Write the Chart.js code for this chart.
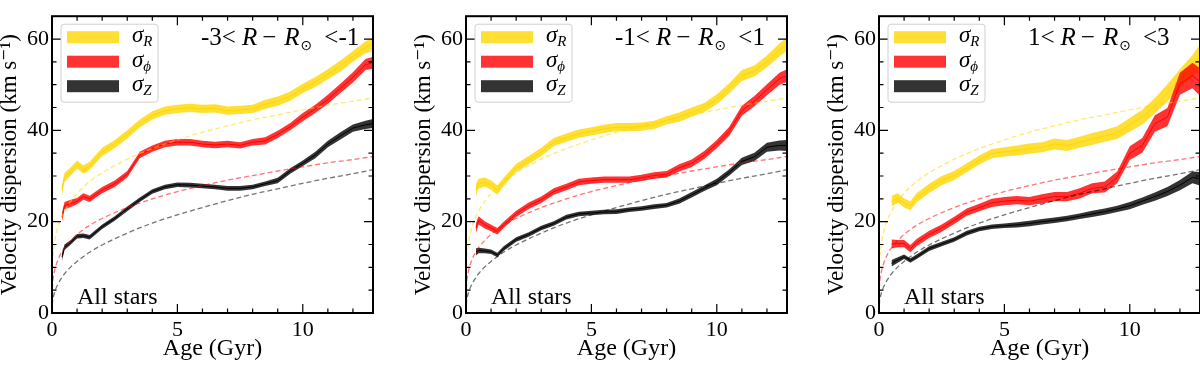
<!DOCTYPE html>
<html>
<head>
<meta charset="utf-8">
<script src="https://cdn.jsdelivr.net/npm/chart.js@4.4.1/dist/chart.umd.min.js"></script>
<style>
  html, body { margin: 0; padding: 0; background: #fff; overflow: hidden; }
  #wrap { position: relative; width: 1200px; height: 365px; overflow: hidden; }
  .panel { position: absolute; top: 0; width: 380px; height: 365px; }
</style>
</head>
<body>
<div id="wrap">
  <div class="panel" style="left:0px"><canvas id="c1" width="380" height="365"></canvas></div>
  <div class="panel" style="left:414px"><canvas id="c2" width="380" height="365"></canvas></div>
  <div class="panel" style="left:827px"><canvas id="c3" width="380" height="365"></canvas></div>
</div>
<script>
// ---- data ----
// ages (Gyr) for the inner and solar-radius panels
const ageA = [0.4, 0.5, 0.75, 1, 1.25, 1.5, 2, 2.5, 3, 3.5, 4, 4.5, 5, 5.5, 6, 6.5, 7, 7.5, 8, 8.5, 9, 9.5, 10, 10.5, 11, 11.5, 12, 12.5, 12.8];
// ages for the outer panel
const ageC = [0.5, 0.75, 1, 1.25, 1.5, 2, 2.5, 3, 3.5, 4, 4.5, 5, 5.5, 6, 6.5, 7, 7.5, 8, 8.5, 9, 9.5, 10, 10.5, 11, 11.5, 12, 12.5, 12.8];

// -3 < R - Rsun < -1
const sigR1 = [27.0, 29.7, 31.0, 32.5, 31.4, 32.2, 35.3, 37.0, 39.1, 41.5, 43.3, 44.3, 44.7, 44.9, 44.7, 44.8, 44.3, 44.5, 44.7, 45.7, 46.4, 47.5, 49.2, 50.6, 52.3, 54.1, 56.2, 58.2, 58.9];
const sigP1 = [21.0, 23.5, 24.0, 24.5, 25.5, 25.0, 26.9, 28.3, 30.4, 34.6, 36.0, 37.0, 37.4, 37.4, 37.0, 36.8, 37.0, 36.7, 37.4, 37.7, 39.1, 40.8, 42.9, 44.7, 46.8, 49.2, 51.6, 54.4, 54.8];
const sigZ1 = [12.3, 14.4, 15.5, 16.8, 16.9, 16.6, 18.9, 20.7, 22.8, 24.8, 26.6, 27.6, 28.1, 28.0, 27.8, 27.6, 27.3, 27.3, 27.6, 28.3, 29.0, 31.1, 32.8, 34.6, 37.0, 38.8, 40.5, 41.2, 41.5];
const errR1 = [1.2, 1.0, 0.9, 0.9, 0.9, 0.9, 0.9, 0.9, 0.9, 0.9, 0.9, 0.9, 0.9, 0.9, 0.9, 0.9, 0.9, 0.9, 0.9, 1.0, 1.0, 1.0, 1.0, 1.1, 1.1, 1.2, 1.2, 1.3, 1.4];
const errP1 = [1.0, 0.8, 0.8, 0.7, 0.7, 0.7, 0.7, 0.7, 0.7, 0.7, 0.7, 0.7, 0.7, 0.7, 0.7, 0.7, 0.7, 0.7, 0.7, 0.8, 0.8, 0.8, 0.9, 0.9, 1.0, 1.0, 1.1, 1.2, 1.3];
const errZ1 = [0.8, 0.6, 0.5, 0.5, 0.5, 0.5, 0.5, 0.5, 0.5, 0.5, 0.5, 0.5, 0.5, 0.5, 0.5, 0.5, 0.5, 0.5, 0.5, 0.5, 0.6, 0.6, 0.6, 0.7, 0.7, 0.8, 0.8, 0.9, 1.0];

// -1 < R - Rsun < 1
const sigR2 = [27.0, 28.3, 28.7, 28.0, 26.9, 28.7, 31.8, 33.5, 35.3, 37.4, 38.4, 39.3, 39.8, 40.3, 40.7, 40.7, 40.8, 41.2, 42.2, 42.9, 44.0, 45.0, 46.8, 49.2, 52.0, 53.0, 55.1, 57.6, 58.9];
const sigP2 = [18.6, 20.3, 19.3, 18.6, 17.9, 19.3, 21.7, 23.5, 24.8, 26.6, 27.6, 28.7, 29.0, 29.2, 29.2, 29.2, 29.6, 30.1, 30.4, 31.8, 32.8, 34.6, 37.0, 39.8, 44.3, 46.4, 48.9, 51.3, 52.0];
const sigZ2 = [13.4, 13.7, 13.6, 13.4, 12.7, 14.1, 16.1, 17.2, 18.6, 19.6, 21.0, 21.7, 21.9, 22.1, 22.2, 22.6, 22.9, 23.3, 23.6, 24.5, 25.9, 27.3, 28.7, 30.8, 33.2, 34.2, 36.3, 36.7, 36.7];
const errR2 = [1.3, 1.1, 1.0, 1.0, 1.0, 0.9, 0.9, 0.9, 0.9, 0.9, 0.9, 0.9, 0.9, 0.9, 0.9, 0.9, 0.9, 0.9, 0.9, 1.0, 1.0, 1.0, 1.1, 1.1, 1.2, 1.2, 1.3, 1.4, 1.5];
const errP2 = [1.1, 0.9, 0.8, 0.7, 0.7, 0.7, 0.7, 0.7, 0.7, 0.7, 0.7, 0.7, 0.7, 0.7, 0.7, 0.7, 0.7, 0.7, 0.7, 0.8, 0.8, 0.9, 0.9, 1.0, 1.1, 1.1, 1.2, 1.3, 1.4];
const errZ2 = [0.8, 0.6, 0.5, 0.5, 0.5, 0.5, 0.5, 0.5, 0.5, 0.5, 0.5, 0.5, 0.5, 0.5, 0.5, 0.5, 0.5, 0.5, 0.5, 0.6, 0.6, 0.6, 0.7, 0.7, 0.8, 0.9, 1.0, 1.1, 1.2];

// 1 < R - Rsun < 3
const sigR3 = [24.5, 25.2, 24.1, 23.5, 25.2, 27.3, 29.0, 30.1, 31.8, 33.5, 34.9, 35.3, 35.6, 36.0, 36.3, 37.0, 36.7, 37.4, 38.1, 38.8, 39.5, 41.2, 42.9, 45.4, 48.2, 51.3, 54.1, 56.2];
const sigP3 = [15.1, 15.2, 15.2, 14.1, 15.4, 17.2, 18.6, 20.3, 22.1, 23.1, 24.1, 24.5, 24.7, 24.5, 25.0, 25.5, 25.5, 26.2, 27.3, 27.6, 29.7, 35.0, 36.7, 41.5, 42.9, 50.2, 52.0, 50.6];
const sigZ3 = [10.9, 11.6, 12.3, 11.5, 12.3, 14.1, 15.1, 16.1, 17.5, 18.4, 18.9, 19.1, 19.3, 19.6, 20.0, 20.3, 20.7, 21.2, 21.7, 22.2, 22.8, 23.5, 24.5, 25.5, 26.6, 28.0, 29.7, 29.4];
const errR3 = [1.2, 1.0, 1.0, 1.0, 1.0, 1.0, 1.0, 1.0, 1.0, 1.0, 1.0, 1.0, 1.1, 1.1, 1.1, 1.2, 1.2, 1.2, 1.3, 1.3, 1.4, 1.5, 1.6, 1.7, 1.9, 2.1, 2.4, 2.6];
const errP3 = [1.0, 0.8, 0.8, 0.8, 0.8, 0.8, 0.8, 0.8, 0.8, 0.8, 0.9, 0.9, 0.9, 0.9, 1.0, 1.0, 1.0, 1.1, 1.1, 1.2, 1.3, 1.5, 1.6, 1.8, 2.0, 2.4, 2.8, 3.0];
const errZ3 = [0.7, 0.6, 0.5, 0.5, 0.5, 0.5, 0.5, 0.5, 0.5, 0.5, 0.5, 0.5, 0.6, 0.6, 0.6, 0.6, 0.6, 0.6, 0.7, 0.7, 0.7, 0.8, 0.8, 0.9, 1.0, 1.1, 1.3, 1.5];

// dashed "all stars" reference curves (same in every panel)
const fitAge = [0, 0.02, 0.05, 0.1, 0.2, 0.35, 0.5, 0.75, 1, 1.5, 2, 3, 4, 5, 6, 7, 8, 9, 10, 11, 12, 12.8];
const fitR   = [0, 10.7, 13.2, 15.4, 18.1, 20.6, 22.3, 24.5, 26.2, 28.8, 30.7, 33.7, 36.0, 37.9, 39.6, 41.0, 42.3, 43.4, 44.5, 45.5, 46.4, 47.1];
const fitP   = [0, 6.0, 7.7, 9.2, 11.1, 13.0, 14.3, 15.9, 17.2, 19.2, 20.7, 23.1, 25.0, 26.6, 27.9, 29.1, 30.1, 31.1, 32.0, 32.9, 33.6, 34.3];
const fitZ   = [0, 2.4, 3.4, 4.5, 5.9, 7.4, 8.6, 10.1, 11.3, 13.3, 14.9, 17.5, 19.7, 21.5, 23.1, 24.6, 26.0, 27.2, 28.4, 29.5, 30.5, 31.4];

const xTicks = [0, 5, 10];
const yTicks = [0, 20, 40, 60];
const panelLabels = [['-3<', '<-1'], ['-1<', '<1'], ['1<', '<3']];

const FONT = "'Liberation Serif', 'DejaVu Serif', serif";
const GOLD = [255, 215, 0], RED = [255, 0, 0], BLACK = [0, 0, 0];
const rgba = (c, a) => `rgba(${c[0]},${c[1]},${c[2]},${a})`;

const pts = (xs, ys) => xs.map((x, i) => ({ x: x, y: ys[i] }));

function bandSets(age, mid, err, col, order) {
  return [
    { data: age.map((x, i) => ({ x: x, y: mid[i] + err[i] })), borderWidth: 0, pointRadius: 0,
      fill: '+1', backgroundColor: rgba(col, 0.8), order: order + 1 },
    { data: age.map((x, i) => ({ x: x, y: mid[i] - err[i] })), borderWidth: 0, pointRadius: 0,
      fill: false, order: order + 1 },
    { data: pts(age, mid), borderColor: rgba(col, 1), borderWidth: 1, pointRadius: 0,
      fill: false, order: order }
  ];
}

function dashSet(ys, col) {
  return { data: pts(fitAge, ys), borderColor: rgba(col, 0.55), borderWidth: 1.3,
    borderDash: [5, 3], pointRadius: 0, fill: false, cubicInterpolationMode: 'monotone', order: 0 };
}

// frame, inward ticks, legend and in-panel text
const decor = {
  id: 'decor',
  afterDraw(chart) {
    const ctx = chart.ctx;
    const a = chart.chartArea;
    const xs = chart.scales.x, ys = chart.scales.y;
    ctx.save();
    ctx.strokeStyle = '#000';
    ctx.lineWidth = 1.2;
    ctx.beginPath();
    for (let v = 1; v <= 12; v++) {
      const px = xs.getPixelForValue(v);
      const len = v % 5 === 0 ? 9 : 4.5;
      ctx.moveTo(px, a.bottom); ctx.lineTo(px, a.bottom - len);
      ctx.moveTo(px, a.top); ctx.lineTo(px, a.top + len);
    }
    for (let v = 5; v <= 60; v += 5) {
      const py = ys.getPixelForValue(v);
      const len = v % 20 === 0 ? 9 : 4.5;
      ctx.moveTo(a.left, py); ctx.lineTo(a.left + len, py);
      ctx.moveTo(a.right, py); ctx.lineTo(a.right - len, py);
    }
    ctx.stroke();
    ctx.lineWidth = 2;
    ctx.strokeRect(a.left, a.top, a.right - a.left, a.bottom - a.top);

    // legend
    const lx = a.left + 9, ly = a.top + 8;
    ctx.lineWidth = 1;
    ctx.strokeStyle = '#d0d0d0';
    ctx.fillStyle = 'rgba(255,255,255,0.8)';
    ctx.beginPath();
    ctx.roundRect(lx, ly, 97, 78, 3);
    ctx.fill(); ctx.stroke();
    const items = [[GOLD, 'R'], [RED, 'ϕ'], [BLACK, 'Z']];
    items.forEach((it, i) => {
      const cy = a.top + 21 + i * 24.5;
      ctx.fillStyle = rgba(it[0], 0.8);
      ctx.fillRect(a.left + 15, cy - 6, 52, 12);
      ctx.fillStyle = '#000';
      ctx.textBaseline = 'alphabetic';
      ctx.textAlign = 'left';
      ctx.font = `italic 23px ${FONT}`;
      ctx.fillText('σ', a.left + 80, cy + 5);
      const w = ctx.measureText('σ').width;
      ctx.font = `italic 15px ${FONT}`;
      ctx.fillText(it[1], a.left + 80 + w, cy + 9);
    });

    // panel label: a< R − R⊙ <b
    const lab = chart.options.plugins.decor.label;
    let x = a.left + 149;
    const base = a.top + 29;
    ctx.fillStyle = '#000';
    const piece = (t, font, gap, dy) => {
      ctx.font = font;
      x += gap;
      ctx.fillText(t, x, base + (dy || 0));
      x += ctx.measureText(t).width;
    };
    piece(lab[0], `25px ${FONT}`, 0);
    piece('R', `italic 25px ${FONT}`, 6);
    piece('−', `25px ${FONT}`, 5);
    piece('R', `italic 25px ${FONT}`, 8);
    piece('⊙', `14px 'DejaVu Sans', sans-serif`, 1, 5);
    piece(lab[1], `25px ${FONT}`, 12);

    ctx.font = `24px ${FONT}`;
    ctx.fillText('All stars', a.left + 25, a.bottom - 9);
    ctx.restore();
  }
};

function makeChart(id, age, sR, eR, sP, eP, sZ, eZ, label) {
  const datasets = [].concat(
    [dashSet(fitR, GOLD), dashSet(fitP, RED), dashSet(fitZ, BLACK)],
    bandSets(age, sZ, eZ, BLACK, 1),
    bandSets(age, sP, eP, RED, 3),
    bandSets(age, sR, eR, GOLD, 5)
  );
  return new Chart(document.getElementById(id), {
    type: 'line',
    data: { datasets: datasets },
    options: {
      responsive: false,
      animation: false,
      devicePixelRatio: 1,
      layout: { padding: { left: 0, right: 7, top: 1, bottom: 0 } },
      elements: { line: { tension: 0 } },
      plugins: { legend: { display: false }, tooltip: { enabled: false }, decor: { label: label } },
      scales: {
        x: {
          type: 'linear', min: 0, max: 12.8,
          afterBuildTicks: s => { s.ticks = xTicks.map(v => ({ value: v })); },
          afterFit: s => { s.height = 52; },
          ticks: { color: '#000', font: { family: FONT, size: 22 }, padding: 4, maxRotation: 0 },
          grid: { display: false, drawTicks: false },
          border: { display: false },
          title: { display: true, text: 'Age (Gyr)', color: '#000',
                   font: { family: FONT, size: 24, lineHeight: 1 }, padding: { top: 0, bottom: 4 } }
        },
        y: {
          min: 0, max: 65,
          afterBuildTicks: s => { s.ticks = yTicks.map(v => ({ value: v })); },
          afterFit: s => { s.width = 52; },
          ticks: { color: '#000', font: { family: FONT, size: 22 }, padding: 3 },
          grid: { display: false, drawTicks: false },
          border: { display: false },
          title: { display: true, text: 'Velocity dispersion (km s⁻¹)', color: '#000',
                   font: { family: FONT, size: 23, lineHeight: 0.85 }, padding: { top: 0, bottom: 0 } }
        }
      }
    },
    plugins: [decor]
  });
}

makeChart('c1', ageA, sigR1, errR1, sigP1, errP1, sigZ1, errZ1, panelLabels[0]);
makeChart('c2', ageA, sigR2, errR2, sigP2, errP2, sigZ2, errZ2, panelLabels[1]);
makeChart('c3', ageC, sigR3, errR3, sigP3, errP3, sigZ3, errZ3, panelLabels[2]);
</script>
</body>
</html>
